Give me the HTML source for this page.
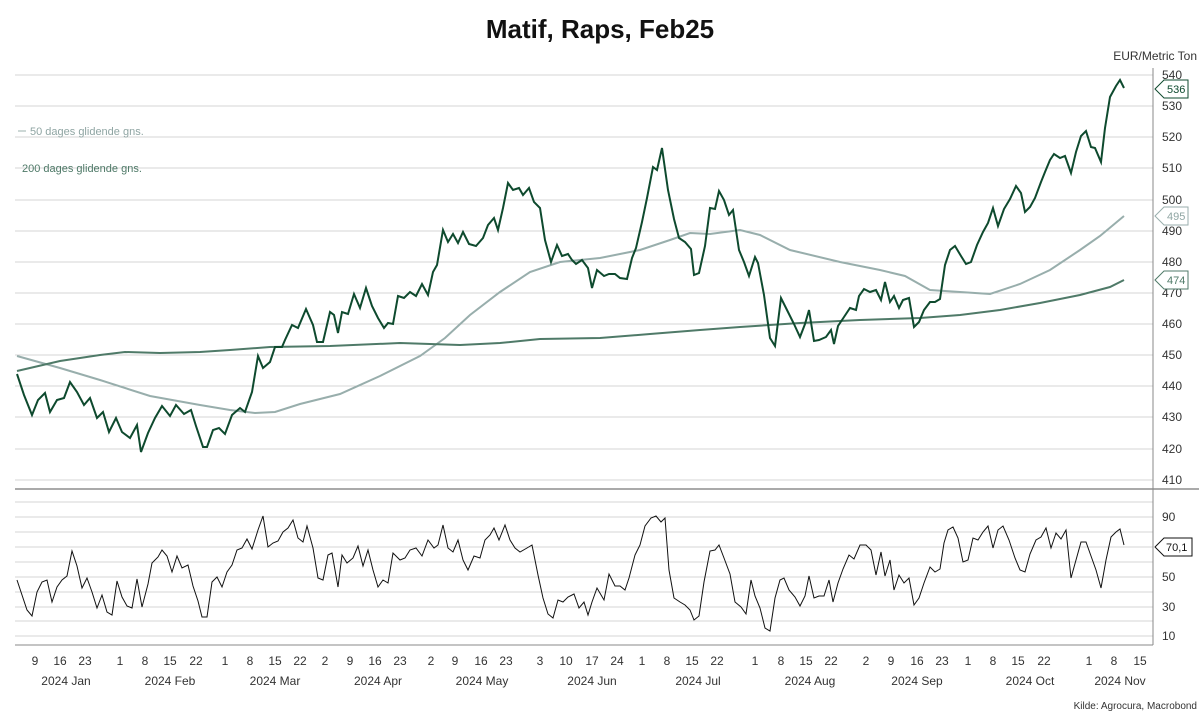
<!DOCTYPE html><html><head><meta charset="utf-8"><style>body{margin:0;background:#fff}svg{display:block;font-family:"Liberation Sans",sans-serif}</style></head><body>
<svg width="1199" height="720" viewBox="0 0 1199 720">
<text x="600" y="38" text-anchor="middle" font-size="26" font-weight="bold" fill="#111">Matif, Raps, Feb25</text>
<text x="1197" y="60" text-anchor="end" font-size="12" fill="#333">EUR/Metric Ton</text>
<g stroke="#d4d4d4" stroke-width="1">
<line x1="15" x2="1153" y1="75" y2="75"/><line x1="15" x2="1153" y1="106" y2="106"/><line x1="15" x2="1153" y1="137" y2="137"/><line x1="15" x2="1153" y1="168" y2="168"/><line x1="15" x2="1153" y1="200" y2="200"/><line x1="15" x2="1153" y1="231" y2="231"/><line x1="15" x2="1153" y1="262" y2="262"/><line x1="15" x2="1153" y1="293" y2="293"/><line x1="15" x2="1153" y1="324" y2="324"/><line x1="15" x2="1153" y1="355" y2="355"/><line x1="15" x2="1153" y1="386" y2="386"/><line x1="15" x2="1153" y1="417" y2="417"/><line x1="15" x2="1153" y1="449" y2="449"/><line x1="15" x2="1153" y1="480" y2="480"/>
<line x1="15" x2="1153" y1="502" y2="502"/><line x1="15" x2="1153" y1="517" y2="517"/><line x1="15" x2="1153" y1="532" y2="532"/><line x1="15" x2="1153" y1="547" y2="547"/><line x1="15" x2="1153" y1="562" y2="562"/><line x1="15" x2="1153" y1="577" y2="577"/><line x1="15" x2="1153" y1="592" y2="592"/><line x1="15" x2="1153" y1="607" y2="607"/><line x1="15" x2="1153" y1="621" y2="621"/><line x1="15" x2="1153" y1="636" y2="636"/>
</g>
<line x1="15" x2="1199" y1="489" y2="489" stroke="#aaa" stroke-width="2"/>
<line x1="15" x2="1153" y1="645" y2="645" stroke="#888"/>
<line x1="1153" x2="1153" y1="68" y2="645" stroke="#888"/>
<g font-size="12" fill="#333">
<text x="1162" y="79">540</text><text x="1162" y="110">530</text><text x="1162" y="141">520</text><text x="1162" y="172">510</text><text x="1162" y="204">500</text><text x="1162" y="235">490</text><text x="1162" y="266">480</text><text x="1162" y="297">470</text><text x="1162" y="328">460</text><text x="1162" y="359">450</text><text x="1162" y="390">440</text><text x="1162" y="421">430</text><text x="1162" y="453">420</text><text x="1162" y="484">410</text>
<text x="1162" y="521">90</text><text x="1162" y="551">70</text><text x="1162" y="581">50</text><text x="1162" y="611">30</text><text x="1162" y="640">10</text>
</g>
<g font-size="12" fill="#333" text-anchor="middle">
<text x="35" y="665">9</text><text x="60" y="665">16</text><text x="85" y="665">23</text><text x="120" y="665">1</text><text x="145" y="665">8</text><text x="170" y="665">15</text><text x="196" y="665">22</text><text x="225" y="665">1</text><text x="250" y="665">8</text><text x="275" y="665">15</text><text x="300" y="665">22</text><text x="325" y="665">2</text><text x="350" y="665">9</text><text x="375" y="665">16</text><text x="400" y="665">23</text><text x="431" y="665">2</text><text x="455" y="665">9</text><text x="481" y="665">16</text><text x="506" y="665">23</text><text x="540" y="665">3</text><text x="566" y="665">10</text><text x="592" y="665">17</text><text x="617" y="665">24</text><text x="642" y="665">1</text><text x="667" y="665">8</text><text x="692" y="665">15</text><text x="717" y="665">22</text><text x="755" y="665">1</text><text x="781" y="665">8</text><text x="806" y="665">15</text><text x="831" y="665">22</text><text x="866" y="665">2</text><text x="891" y="665">9</text><text x="917" y="665">16</text><text x="942" y="665">23</text><text x="968" y="665">1</text><text x="993" y="665">8</text><text x="1018" y="665">15</text><text x="1044" y="665">22</text><text x="1089" y="665">1</text><text x="1114" y="665">8</text><text x="1140" y="665">15</text>
<text x="66" y="685">2024 Jan</text><text x="170" y="685">2024 Feb</text><text x="275" y="685">2024 Mar</text><text x="378" y="685">2024 Apr</text><text x="482" y="685">2024 May</text><text x="592" y="685">2024 Jun</text><text x="698" y="685">2024 Jul</text><text x="810" y="685">2024 Aug</text><text x="917" y="685">2024 Sep</text><text x="1030" y="685">2024 Oct</text><text x="1120" y="685">2024 Nov</text>
</g>
<text x="1197" y="709" text-anchor="end" font-size="10" fill="#333">Kilde: Agrocura, Macrobond</text>
<line x1="18" x2="26" y1="131" y2="131" stroke="#9bb0ae"/>
<text x="30" y="135" font-size="11" fill="#8fa5a3">50 dages glidende gns.</text>
<text x="22" y="172" font-size="11" fill="#4f7a68">200 dages glidende gns.</text>
<polyline fill="none" stroke="#98aeac" stroke-width="2" points="17,356 60,368 100,380 150,396 200,405 230,410 255,413 275,412 300,404 340,394 380,376 420,356 445,338 470,315 500,292 530,272 560,262 600,258 640,250 670,240 690,233 710,234 740,230 760,235 790,250 840,262 880,270 905,276 930,290 960,292 990,294 1020,284 1050,270 1080,250 1100,236 1124,216"/>
<polyline fill="none" stroke="#4f7a68" stroke-width="2" points="17,371 60,361 100,355 125,352 160,353 200,352 230,350 270,347 330,346 400,343 460,345 500,343 540,339 600,338 650,334 700,330 740,327 800,323 860,320 920,318 960,315 1000,310 1040,303 1080,295 1110,287 1124,280"/>
<polyline fill="none" stroke="#0e4a2e" stroke-width="2" points="17,374 24,395 32,415 38,400 45,393 50,412 57,400 64,398 70,382 77,392 84,405 90,398 97,418 103,412 109,432 116,418 122,432 130,438 137,425 141,452 148,433 155,418 162,406 170,416 176,405 184,414 191,410 196,426 203,447 207,447 213,430 219,428 225,434 232,415 240,408 245,412 252,392 258,356 263,368 270,362 275,347 282,347 285,340 292,325 298,328 306,309 313,325 317,342 323,342 330,312 334,315 338,333 342,312 348,314 354,294 360,308 366,288 372,306 378,318 384,328 388,323 393,324 398,296 404,298 410,292 416,296 422,284 428,295 433,272 437,265 443,230 448,242 453,234 458,243 463,232 469,244 476,246 483,238 488,225 494,218 498,230 503,208 508,183 513,190 519,188 523,195 529,188 534,202 540,208 545,240 551,262 557,245 562,256 568,254 572,260 576,264 582,260 588,268 592,288 597,270 604,276 609,274 615,274 620,278 627,279 632,258 636,248 642,222 647,198 653,167 657,170 662,148 668,190 674,219 679,238 685,242 691,249 694,275 699,273 705,246 710,208 715,209 719,191 724,200 729,215 733,210 739,250 744,262 749,276 755,257 758,263 764,295 770,338 775,346 781,298 787,310 794,324 800,337 805,324 809,310 814,341 819,340 826,337 831,330 834,344 838,326 844,317 850,308 856,310 859,296 864,289 870,292 876,290 881,300 885,282 890,302 894,296 899,308 903,300 909,298 914,327 919,322 924,310 930,302 935,302 940,299 945,265 950,250 955,246 961,256 966,264 971,262 977,245 983,232 988,223 993,208 998,226 1004,209 1010,199 1016,186 1021,193 1025,212 1030,207 1035,198 1041,182 1045,172 1050,160 1054,154 1060,158 1065,156 1071,173 1076,152 1081,136 1086,131 1091,147 1095,148 1101,162 1105,128 1110,97 1116,86 1120,80 1124,88"/>
<polyline fill="none" stroke="#111" stroke-width="1" points="17,580 27,610 32,616 37,592 42,582 47,580 52,602 57,587 62,580 67,576 72,551 77,566 82,588 87,578 92,592 97,608 102,595 107,612 112,615 117,581 122,597 127,606 132,608 137,579 142,607 148,584 152,563 158,557 162,550 167,556 172,572 177,556 182,568 188,565 193,586 198,601 202,617 207,617 212,582 217,577 222,587 227,572 232,565 237,550 242,548 247,539 252,549 258,530 263,516 268,547 273,543 278,541 283,532 288,528 293,520 298,538 303,542 307,526 313,548 318,578 323,580 328,555 332,553 338,587 342,555 347,563 353,558 358,546 363,566 368,550 373,570 378,587 383,580 388,583 393,553 400,560 405,558 410,550 416,548 422,556 428,540 434,548 438,545 443,525 448,548 453,552 458,540 463,560 468,570 474,556 480,558 485,540 490,535 494,528 499,540 505,525 510,540 515,548 520,552 527,548 532,545 538,575 543,598 548,614 553,618 558,600 563,602 568,597 574,594 579,608 584,602 588,615 592,602 597,588 604,600 609,574 615,586 620,586 625,590 629,578 635,555 640,545 645,526 651,518 656,516 661,522 665,518 669,570 674,598 680,602 685,605 690,610 694,620 699,616 704,582 710,551 715,550 719,545 724,558 730,574 735,602 741,607 746,614 751,580 755,596 760,608 765,628 770,631 775,598 780,580 784,578 789,590 795,597 800,606 805,596 809,576 814,598 819,596 824,596 829,580 833,602 838,583 843,569 849,555 854,559 860,545 866,545 871,550 876,575 881,552 885,576 890,560 894,590 899,575 904,583 909,578 914,605 919,598 924,583 930,567 935,572 940,569 944,543 948,530 953,527 958,538 963,562 968,560 973,538 978,540 983,532 988,526 993,548 998,530 1003,526 1009,540 1015,558 1020,570 1025,572 1030,554 1036,540 1041,537 1046,528 1051,548 1056,533 1061,539 1066,530 1071,578 1076,560 1081,542 1086,542 1091,556 1096,570 1101,588 1106,560 1111,537 1116,532 1120,529 1124,545"/>
<g font-size="11" stroke-width="1">
<path d="M1155,89 L1164,80 H1188 V98 H1164 Z" fill="#fff" stroke="#0e4a2e"/><text x="1167" y="93" fill="#0e4a2e">536</text>
<path d="M1155,216 L1164,207 H1188 V225 H1164 Z" fill="#fff" stroke="#98aeac"/><text x="1167" y="220" fill="#8fa5a3">495</text>
<path d="M1155,280 L1164,271 H1188 V289 H1164 Z" fill="#fff" stroke="#4f7a68"/><text x="1167" y="284" fill="#4f7a68">474</text>
<path d="M1155,547 L1164,538 H1192 V556 H1164 Z" fill="#fff" stroke="#111"/><text x="1166" y="551" fill="#111">70,1</text>
</g>
</svg></body></html>
